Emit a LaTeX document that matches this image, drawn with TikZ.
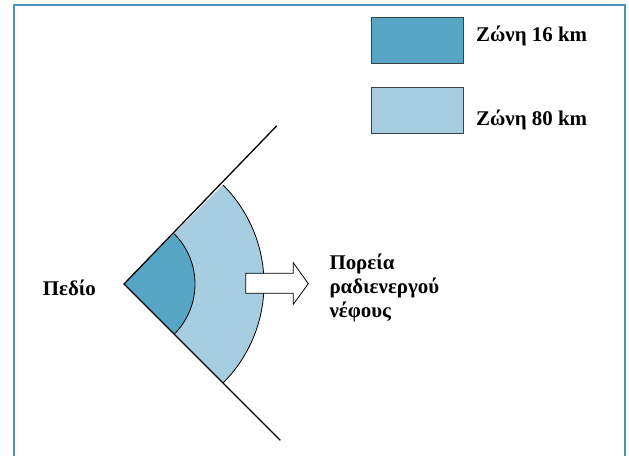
\documentclass[tikz,border=0pt]{standalone}
\usepackage{fontspec}
\setmainfont{Liberation Serif}
\usepackage{xcolor}
\usetikzlibrary{calc}
\definecolor{zdark}{RGB}{87,165,197}
\definecolor{zlight}{RGB}{166,205,224}
\definecolor{frameblue}{RGB}{72,150,186}

\begin{document}
\begin{tikzpicture}[x=1bp,y=1bp,
  lbl/.style={inner sep=0pt,font=\fontsize{21}{24}\selectfont\bfseries},
  key/.style={draw=black!75,line width=1pt,minimum width=92bp,minimum height=46bp,inner sep=0pt},
  edge/.style={black,line width=1.3pt},
  rim/.style={black,line width=0.8pt}
]
\useasboundingbox (0,0) rectangle (629,456);
\draw[frameblue,line width=2bp] (14,-5) -- (14,451) -- (625,451) -- (625,-5);
% legend
\node[key,fill=zdark]  (k16) at (417.7,415.7) {};
\node[key,fill=zlight] (k80) at (417.7,345.3) {};
\node[lbl,anchor=base west] (t16) at (476,414.3) {Ζώνη 16 km};
\node[lbl,anchor=base west] (t80) at (476,330) {Ζώνη 80 km};
% zones
\coordinate (apex) at (124,172);
\fill[zlight] (apex) -- ++(45:140) arc (45:-45:140) -- cycle;
\draw[rim] ($(apex)+(45:140)$) arc (45:-45:140);
\fill[zdark] (apex) -- ++(45:71) arc (45:-45:71) -- cycle;
\draw[rim] ($(apex)+(45:71)$) arc (45:-45:71);
\coordinate (up) at ($(apex)+(46:220)$);
\coordinate (dn) at ($(apex)+(-45:221)$);
\draw[edge,line join=miter] (up) -- (apex) -- (dn);
\node[lbl,anchor=base west] (site) at (42.7,160) {Πεδίο};
% direction of the cloud
\draw[black,line width=0.8pt,fill=white] (245.7,162.7) -- (293.3,162.7) -- (293.3,151.7)
  -- (308.3,172.3) -- (293.3,193.3) -- (293.3,182.7) -- (245.7,182.7) -- cycle;
\node[lbl,anchor=west,align=left] (cloud) at (329.3,168) {Πορεία\\ραδιενεργού\\νέφους};
\end{tikzpicture}
\end{document}
